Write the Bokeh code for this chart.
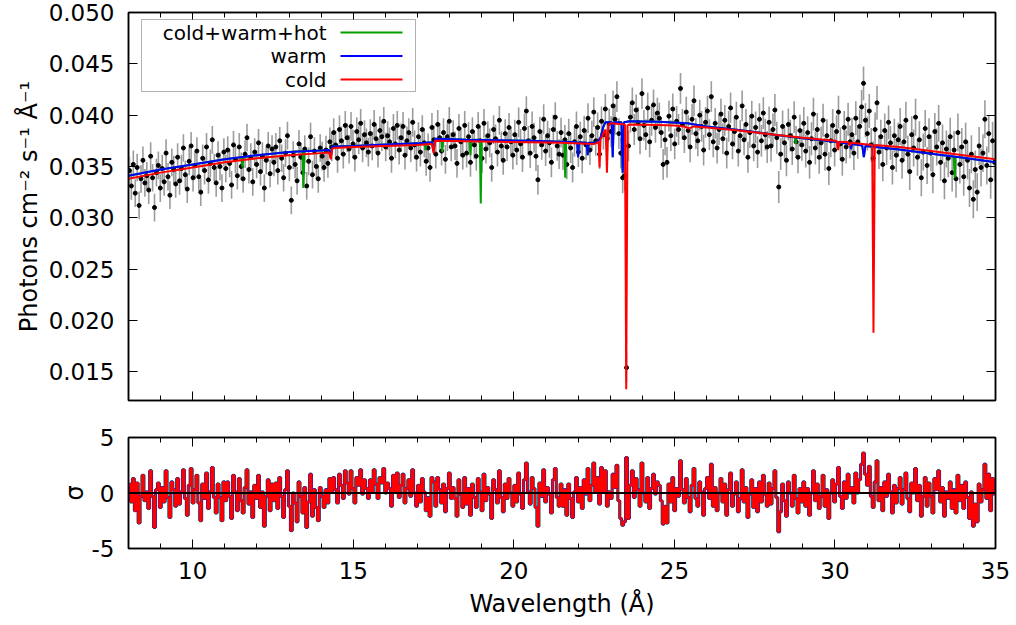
import numpy as np
from bokeh.plotting import figure
from bokeh.layouts import column
from bokeh.models import (Range1d, LinearAxis, SingleIntervalTicker, FixedTicker,
                          NumeralTickFormatter, Label, BoxAnnotation, Span)
from bokeh.embed import file_html
from bokeh.resources import INLINE

# ---------------- data (flux in units of 1e-3 photons cm^-2 s^-1 A^-1) ----------------
BIN_START = 8.0      # Angstrom
BIN_WIDTH = 0.06     # Angstrom
BINS_PER_ROW = 25

flux_milli = [
    34.6, 33.1, 35.2, 32.4, 34.9, 31.2, 33.8, 35.6, 33.4, 34.1, 32.7, 36.0, 33.9, 31.0, 34.4, 35.1, 32.9, 34.8, 33.5, 36.3, 34.0, 32.2, 35.4, 34.7, 33.3,
    35.9, 33.6, 34.8, 36.8, 34.2, 32.8, 35.5, 37.0, 33.9, 35.1, 36.5, 34.0, 32.5, 35.8, 34.6, 36.9, 33.7, 35.3, 37.6, 34.9, 33.4, 36.1, 35.0, 32.9, 36.4,
    34.8, 36.6, 35.3, 33.2, 37.1, 35.7, 34.1, 36.9, 35.0, 33.8, 36.2, 37.8, 34.7, 35.9, 33.5, 36.4, 35.2, 37.3, 34.5, 36.0, 32.9, 35.6, 37.0, 34.3, 36.7,
    35.4, 36.9, 34.6, 37.5, 35.8, 33.9, 36.3, 38.0, 34.9, 31.7, 36.1, 35.2, 33.6, 37.2, 35.9, 34.4, 36.7, 33.1, 35.5, 37.9, 34.2, 36.5, 35.0, 33.8, 36.8,
    36.0, 34.9, 36.6, 35.3, 37.4, 36.9, 38.3, 37.1, 35.8, 38.6, 37.5, 36.2, 39.0, 37.8, 36.7, 38.9, 37.2, 35.9, 38.4, 37.6, 39.2, 36.8, 38.1, 37.3, 36.4,
    38.2, 37.0, 39.1, 37.7, 36.3, 38.5, 37.9, 39.4, 36.9, 38.0, 37.4, 35.8, 38.7, 37.2, 39.0, 36.6, 37.8, 38.9, 36.1, 37.5, 38.3, 36.8, 39.3, 37.1, 35.9,
    37.9, 36.4, 38.6, 37.3, 35.5, 36.8, 34.9, 38.8, 37.6, 36.2, 39.1, 37.8, 36.5, 38.3, 35.7, 37.9, 39.4, 36.9, 38.1, 37.0, 35.3, 38.7, 37.4, 36.1, 39.0,
    36.3, 37.9, 35.4, 38.4, 37.1, 36.0, 38.9, 37.5, 35.8, 39.2, 36.7, 38.0, 37.3, 34.9, 38.6, 37.7, 36.4, 39.5, 37.0, 35.6, 38.2, 36.9, 38.8, 37.4, 36.1,
    38.1, 36.6, 39.3, 37.2, 35.9, 38.7, 40.4, 37.5, 36.3, 38.9, 37.8, 36.0, 33.7, 38.4, 37.1, 39.6, 36.5, 38.0, 37.3, 35.4, 38.6, 39.8, 37.0, 36.2, 38.3,
    36.1, 37.6, 35.2, 38.2, 36.8, 34.9, 37.4, 38.9, 36.4, 37.9, 35.8, 38.5, 37.1, 39.7, 36.6, 38.0, 40.3, 37.5, 38.8, 36.2, 39.4, 38.1, 40.6, 37.7, 39.2,
    38.4, 40.9, 39.6, 41.8, 38.2, 36.3, 33.9, 34.1, 15.4, 37.0, 39.8, 41.2, 38.6, 40.5, 39.3, 37.7, 42.1, 39.0, 38.1, 40.7, 37.4, 39.5, 41.0, 38.8, 40.2,
    39.7, 38.3, 35.2, 37.6, 35.4, 39.9, 38.0, 40.6, 37.2, 39.4, 38.6, 42.6, 39.1, 37.8, 40.3, 38.5, 36.9, 39.6, 41.4, 38.2, 37.5, 40.0, 38.9, 36.6, 39.3,
    40.4, 38.1, 41.8, 37.4, 39.2, 36.8, 38.6, 40.1, 37.7, 39.5, 36.3, 38.9, 40.7, 37.2, 38.4, 39.8, 36.5, 38.0, 40.9, 37.6, 39.1, 35.9, 38.3, 39.9, 37.0,
    38.8, 36.4, 39.6, 37.5, 40.2, 38.1, 36.9, 39.3, 37.0, 38.6, 40.5, 37.8, 33.0, 36.2, 38.9, 37.3, 35.6, 39.1, 38.0, 36.7, 39.8, 37.4, 35.9, 38.5, 37.1,
    39.2, 36.5, 38.3, 35.4, 37.7, 40.1, 36.8, 38.6, 35.9, 37.3, 39.5, 36.2, 38.0, 34.8, 37.5, 39.0, 36.6, 38.4, 40.3, 37.2, 35.7, 38.8, 36.9, 39.6, 37.4,
    38.1, 36.3, 39.7, 37.4, 38.9, 40.8, 43.1, 39.5, 38.2, 40.4, 37.1, 35.8, 38.6, 41.2, 36.4, 37.9, 35.2, 38.5, 36.8, 39.3, 37.3, 34.9, 38.0, 36.1, 37.6,
    38.9, 35.6, 37.4, 39.5, 36.2, 34.5, 38.1, 36.8, 39.8, 35.9, 37.6, 33.9, 36.4, 38.7, 35.1, 37.9, 36.3, 34.2, 38.4, 36.9, 39.2, 35.4, 37.3, 33.6, 36.7,
    35.8, 37.9, 34.4, 36.6, 33.8, 38.3, 35.2, 36.9, 34.0, 37.4, 35.6, 32.9, 36.2, 31.8, 34.7, 32.5, 37.0, 34.9, 36.3, 39.6, 35.1, 38.2, 33.7, 37.5, 35.4,
]

# 1-sigma error per row of 25 bins (1.5 A each), same units
err_milli_rows = [1.35, 1.35, 1.35, 1.35, 1.4, 1.4, 1.4, 1.4, 1.45, 1.45,
                  1.5, 1.5, 1.5, 1.55, 1.6, 1.65, 1.8, 1.85]

# residuals (data - model) / error, in sigma
resid_sigma = [
    0.8, -0.8, 1.3, -1.6, 0.9, -2.7, -0.3, 1.6, -0.7, 0.1, -1.4, 2.0, -0.3, -3.1, 0.3, 0.9, -1.3, 0.5, -0.8, 2.0, -0.4, -2.2, 1.0, 0.3, -1.2,
    1.3, -1.0, 0.1, 2.1, -0.5, -2.0, 0.7, 2.2, -0.9, 0.3, 1.6, -0.9, -2.5, 0.8, -0.5, 1.8, -1.4, 0.1, 2.3, -0.4, -1.8, 0.8, -0.4, -2.5, 1.0,
    -0.7, 1.0, -0.3, -2.3, 1.6, 0.1, -1.6, 1.3, -0.7, -1.8, 0.5, 2.1, -1.0, 0.1, -2.2, 0.7, -0.5, 1.6, -1.3, 0.1, -3.0, -0.3, 1.2, -1.6, 0.8,
    -0.7, 0.9, -1.4, 1.4, -0.3, -2.2, 0.3, 2.0, -1.2, -3.4, 0.0, -0.9, -2.6, 1.0, -0.3, -1.8, 0.5, -3.1, -0.8, 1.7, -2.1, 0.3, -1.3, -2.5, 0.5,
    -0.3, -1.3, 0.3, -0.9, 1.3, 0.1, 1.4, 0.3, -0.9, 1.7, 0.7, -0.5, 2.0, 0.9, -0.1, 2.0, 0.4, -0.9, 1.4, 0.7, 2.1, -0.1, 1.2, 0.4, -0.5,
    1.2, 0.1, 2.1, 0.8, -0.5, 1.4, 0.9, 2.2, 0.0, 0.9, 0.4, -1.2, 1.6, 0.1, 1.8, -0.4, 0.7, 1.7, -0.9, 0.4, 1.2, -0.3, 2.1, 0.0, -1.2,
    0.7, -0.8, 1.3, 0.1, -1.6, -0.4, -2.1, 1.4, 1.0, -1.2, 1.4, 0.3, -0.9, 0.8, -1.7, 0.4, 1.8, -0.5, 0.5, -0.5, -2.1, 1.2, -0.1, -1.3, 1.4,
    -1.0, 0.4, -2.0, 0.8, -0.4, -1.3, 1.3, 0.1, -1.6, 1.7, -0.7, 0.5, -0.1, -2.3, 1.2, 0.3, -0.9, 2.0, -0.4, -1.7, 0.8, -0.5, 1.3, 0.0, -1.2,
    0.7, -0.8, 1.8, -0.1, -1.4, 1.2, 2.7, 0.1, -1.0, 1.4, 0.4, -1.3, -3.0, 0.9, -0.3, 2.1, -0.8, 0.5, -0.1, -1.8, 1.2, 2.2, -0.4, -1.2, 0.8,
    -1.2, 0.3, -2.0, 0.8, -0.5, -2.2, 0.1, 1.4, -0.8, 0.5, -1.4, 1.2, -0.1, 2.2, -0.7, 0.7, 2.7, 0.1, 1.4, -1.0, 2.3, 0.1, 2.0, -1.2, 0.1,
    -0.5, 1.7, 0.5, 2.5, -0.7, -2.3, -2.9, -2.6, 3.2, -2.3, 0.7, 2.0, -0.4, 1.3, 0.3, -1.2, 2.7, 0.0, -0.8, 1.4, -1.4, 0.4, 1.7, -0.1, 1.0,
    0.7, -0.7, -2.8, -1.2, -2.7, 0.8, -0.8, 1.4, -1.6, 0.4, -0.3, 2.9, 0.3, -0.9, 1.3, -0.4, -1.7, 0.7, 2.2, -0.5, -1.2, 1.0, 0.1, -2.0, 0.4,
    1.4, -0.5, 2.6, -1.2, 0.5, -1.6, 0.0, 1.3, -0.8, 0.8, -2.0, 0.3, 1.8, -1.2, -0.1, 1.0, -1.7, -0.5, 2.1, -0.8, 0.5, -2.2, -0.1, 1.2, -1.3,
    0.4, -1.7, 1.0, -0.8, 1.6, -0.1, -1.2, 0.9, -1.0, 0.4, 2.0, -0.4, -3.5, -1.7, 0.8, -0.7, -2.1, 1.0, 0.0, -1.2, 1.6, -0.5, -1.8, 0.4, -0.8,
    1.0, -1.2, 0.4, -2.0, 0.0, 2.0, -0.7, 0.8, -1.4, -0.3, 1.6, -1.2, 0.3, -2.3, 0.0, 1.2, -0.8, 0.8, 2.3, -0.3, -1.4, 1.0, -0.5, 1.7, 0.0,
    0.5, -0.9, 1.8, 0.0, 1.2, 2.6, 3.6, 1.7, 0.7, 2.4, -0.3, -1.3, 1.0, 2.9, -0.7, 0.5, -1.6, 1.0, -0.3, 1.7, 0.1, -1.8, 0.7, -0.9, 0.4,
    1.4, -1.0, 0.3, 1.8, -0.5, -1.7, 0.9, 0.0, 2.2, -0.7, 0.7, -2.1, -0.3, 1.4, -1.2, 0.9, -0.3, -1.8, 1.3, 0.3, 2.0, -0.8, 0.5, -2.1, 0.1,
    -0.5, 1.0, -1.4, 0.3, -1.8, 1.6, -0.7, 0.7, -1.4, 1.0, -0.4, -2.3, 0.1, -3.0, -1.0, -2.6, 0.8, -0.8, 0.3, 2.6, -0.5, 1.7, -1.6, 1.3, -0.1,
]

# ---------------- model curves (wavelength A, flux 1e-3) ----------------
cold_model = [
    (8.0, 33.8), (9.0, 34.4), (10.0, 34.9), (11.0, 35.4), (12.0, 35.8), (13.0, 36.1),
    (14.0, 36.3), (14.25, 36.35), (14.3, 35.7), (14.34, 36.7), (14.4, 36.8), (15.0, 36.9),
    (16.0, 37.0), (17.0, 37.1), (17.45, 37.2), (17.5, 36.3), (17.55, 37.5), (18.5, 37.45),
    (19.5, 37.4), (20.5, 37.35), (21.5, 37.3), (22.5, 37.2), (22.6, 37.3), (22.64, 37.4),
    (22.67, 34.9), (22.7, 37.6), (22.8, 38.3), (22.86, 38.6), (22.9, 34.4), (22.94, 39.0),
    (23.0, 39.2), (23.46, 39.1), (23.5, 13.3), (23.54, 39.0), (23.6, 39.1), (24.5, 39.05),
    (25.0, 39.0), (25.3, 38.9), (25.45, 38.7), (25.6, 38.9), (26.0, 38.8), (27.0, 38.5),
    (28.0, 38.15), (29.0, 37.8), (30.0, 37.5), (30.06, 37.45), (30.1, 36.6), (30.14, 37.4),
    (30.42, 37.35), (30.46, 37.0), (30.5, 37.3), (31.16, 37.1), (31.2, 18.8), (31.24, 37.1),
    (32.0, 36.9), (33.0, 36.5), (34.0, 36.1), (35.0, 35.7),
]

warm_model = [
    (8.0, 34.1), (9.0, 34.7), (10.0, 35.2), (11.0, 35.7), (12.0, 36.1), (13.0, 36.4),
    (14.0, 36.55), (14.25, 36.6), (14.3, 35.9), (14.34, 36.9), (14.4, 36.95), (15.0, 37.0),
    (16.0, 37.15), (17.0, 37.25), (17.45, 37.35), (17.5, 36.5), (17.55, 37.7), (18.5, 37.6),
    (19.5, 37.55), (20.5, 37.5), (21.5, 37.4), (21.97, 37.35), (22.0, 35.9), (22.03, 37.35),
    (22.27, 37.3), (22.3, 36.1), (22.33, 37.3), (22.5, 37.3), (22.6, 37.4), (22.7, 37.8),
    (22.78, 38.8), (22.85, 39.3), (23.05, 39.3), (23.08, 35.9), (23.11, 39.3), (23.35, 39.3),
    (23.39, 34.4), (23.43, 39.3), (23.6, 39.4), (24.5, 39.35), (25.4, 39.2), (26.0, 38.9),
    (27.0, 38.55), (28.0, 38.15), (29.0, 37.75), (30.0, 37.4), (30.47, 37.2), (30.5, 36.7),
    (30.53, 37.2), (30.85, 37.05), (30.9, 35.9), (30.95, 37.0), (32.0, 36.65), (33.0, 36.25),
    (34.0, 35.85), (35.0, 35.4),
]

full_model = [
    (8.0, 34.1), (9.0, 34.7), (10.0, 35.2), (11.0, 35.7), (11.52, 35.9), (11.55, 34.9),
    (11.58, 35.9), (12.0, 36.1), (13.0, 36.4), (13.42, 36.5), (13.45, 32.9), (13.48, 36.5),
    (14.0, 36.55), (14.25, 36.6), (14.3, 35.9), (14.34, 36.9), (14.4, 36.95), (15.0, 37.0),
    (16.0, 37.15), (17.0, 37.25), (17.22, 37.3), (17.25, 36.6), (17.28, 37.3), (17.45, 37.35),
    (17.5, 36.5), (17.55, 37.7), (17.74, 37.7), (17.77, 36.4), (17.8, 37.7), (18.5, 37.6),
    (18.62, 37.6), (18.65, 36.1), (18.68, 37.6), (18.94, 37.6), (18.97, 31.4), (19.0, 37.6),
    (19.5, 37.55), (20.5, 37.5), (21.5, 37.4), (21.57, 37.4), (21.6, 33.9), (21.63, 37.4),
    (21.97, 37.35), (22.0, 35.9), (22.03, 37.35), (22.27, 37.3), (22.3, 36.1), (22.33, 37.3),
    (22.5, 37.3), (22.6, 37.4), (22.7, 37.8), (22.78, 38.8), (22.85, 39.3), (23.05, 39.3),
    (23.08, 35.9), (23.11, 39.3), (23.35, 39.3), (23.39, 34.4), (23.43, 39.3), (23.6, 39.4),
    (24.5, 39.35), (25.4, 39.2), (26.0, 38.9), (27.0, 38.55), (28.0, 38.15), (28.75, 37.85),
    (28.78, 37.2), (28.81, 37.85), (29.0, 37.75), (30.0, 37.4), (30.47, 37.2), (30.5, 36.7),
    (30.53, 37.2), (30.85, 37.05), (30.9, 35.9), (30.95, 37.0), (32.0, 36.65), (33.0, 36.25),
    (33.7, 35.95), (33.73, 33.9), (33.76, 35.95), (34.0, 35.85), (35.0, 35.4),
]

legend_labels = ["cold+warm+hot", "warm", "cold"]
GREEN, BLUE, RED = "#00a000", "#0000ff", "#ff0000"
FONT = "DejaVu Sans"

# ---------------- derived arrays ----------------
n = len(flux_milli)
wave = BIN_START + BIN_WIDTH * (np.arange(n) + 0.5)
flux = np.array(flux_milli) * 1e-3
err = np.repeat(np.array(err_milli_rows), BINS_PER_ROW)[:n] * 1e-3
resid = np.array(resid_sigma)


def split(model):
    xs = [p[0] for p in model]
    ys = [p[1] * 1e-3 for p in model]
    return xs, ys


def style_axis(ax, labels=True, font_size="23px"):
    ax.axis_line_color = "black"
    ax.axis_line_width = 1.5
    ax.major_tick_in = 9
    ax.major_tick_out = 0
    ax.minor_tick_in = 5
    ax.minor_tick_out = 0
    ax.major_tick_line_color = "black"
    ax.minor_tick_line_color = "black"
    ax.major_tick_line_width = 1
    ax.minor_tick_line_width = 1
    ax.major_label_text_font = FONT
    ax.axis_label_text_font = FONT
    ax.axis_label_text_font_style = "normal"
    ax.axis_label_text_font_size = "24px"
    ax.axis_label_text_color = "black"
    if labels:
        ax.major_label_text_font_size = font_size
        ax.major_label_text_color = "black"
    else:
        ax.major_label_text_font_size = "0px"
        ax.major_label_text_color = None
        ax.major_label_standoff = 0


def add_mirror_axes(p, xt, yt):
    top = LinearAxis(ticker=xt)
    style_axis(top, labels=False)
    p.add_layout(top, "above")
    right = LinearAxis(ticker=yt)
    style_axis(right, labels=False)
    p.add_layout(right, "right")


# ---------------- top panel ----------------
p1 = figure(width=1016, height=425, x_range=Range1d(8, 35), y_range=Range1d(0.0122, 0.050),
            output_backend="svg", toolbar_location=None,
            min_border_left=128, min_border_right=21, min_border_top=12, min_border_bottom=25)
p1.grid.visible = False
p1.outline_line_color = "black"
p1.outline_line_width = 1.5
p1.background_fill_color = "white"

p1.xaxis.ticker = SingleIntervalTicker(interval=5, num_minor_ticks=5)
p1.yaxis.ticker = SingleIntervalTicker(interval=0.005, num_minor_ticks=0)
p1.yaxis.formatter = NumeralTickFormatter(format="0.000")
style_axis(p1.xaxis[0], labels=False)
style_axis(p1.yaxis[0], labels=True)
p1.yaxis.major_label_standoff = 14
p1.yaxis.axis_label = "Photons cm⁻² s⁻¹ Å⁻¹"
p1.yaxis.axis_label_standoff = 3
add_mirror_axes(p1, SingleIntervalTicker(interval=5, num_minor_ticks=5),
                SingleIntervalTicker(interval=0.005, num_minor_ticks=0))

p1.segment(x0=wave, y0=flux - err, x1=wave, y1=flux + err, line_color="#9c9c9c", line_width=1.6)
p1.scatter(wave, flux, size=4, color="black")

fx, fy = split(full_model)
wx, wy = split(warm_model)
cx, cy = split(cold_model)
p1.line(fx, fy, line_color=GREEN, line_width=2)
p1.line(wx, wy, line_color=BLUE, line_width=2)
p1.line(cx, cy, line_color=RED, line_width=2)

# legend (gnuplot style: text then sample line), frame-relative screen units
p1.add_layout(BoxAnnotation(left=13, right=287, bottom=309, top=381,
                            left_units="screen", right_units="screen",
                            bottom_units="screen", top_units="screen",
                            fill_color="white", fill_alpha=1.0,
                            line_color="black", line_width=1))
for i, (lab, col) in enumerate(zip(legend_labels, [GREEN, BLUE, RED])):
    yy = 368 - i * 23.5
    p1.add_layout(Label(x=198, y=yy, x_units="screen", y_units="screen", text=lab,
                        text_align="right", text_baseline="middle",
                        text_font=FONT, text_font_size="20px", text_color="black"))
    p1.add_layout(BoxAnnotation(left=212, right=274, bottom=yy - 1, top=yy + 1,
                                left_units="screen", right_units="screen",
                                bottom_units="screen", top_units="screen",
                                fill_color=col, fill_alpha=1.0, line_color=None))

# ---------------- bottom panel ----------------
p2 = figure(width=1016, height=200, x_range=p1.x_range, y_range=Range1d(-5, 5),
            output_backend="svg", toolbar_location=None,
            min_border_left=128, min_border_right=21, min_border_top=12, min_border_bottom=77)
p2.grid.visible = False
p2.outline_line_color = "black"
p2.outline_line_width = 1.5
p2.xaxis.ticker = SingleIntervalTicker(interval=5, num_minor_ticks=5)
p2.yaxis.ticker = FixedTicker(ticks=[-5, 0, 5])
p2.yaxis.formatter = NumeralTickFormatter(format="0")
style_axis(p2.xaxis[0], labels=True)
style_axis(p2.yaxis[0], labels=True)
p2.xaxis.major_label_standoff = 13
p2.xaxis.axis_label = "Wavelength (Å)"
p2.xaxis.axis_label_standoff = 8
p2.yaxis.major_label_standoff = 14
p2.yaxis.axis_label = "σ"
p2.yaxis.axis_label_standoff = 0
add_mirror_axes(p2, SingleIntervalTicker(interval=5, num_minor_ticks=5), FixedTicker(ticks=[-5, 0, 5]))

p2.step(wave, resid, mode="center", line_color=GREEN, line_width=3)
p2.step(wave, resid, mode="center", line_color=BLUE, line_width=2.6)
p2.step(wave, resid, mode="center", line_color=RED, line_width=2)
p2.add_layout(Span(location=0, dimension="width", line_color="black", line_width=2))

layout = column(p1, p2, spacing=0)
open("out.html", "w").write(file_html(layout, INLINE))
